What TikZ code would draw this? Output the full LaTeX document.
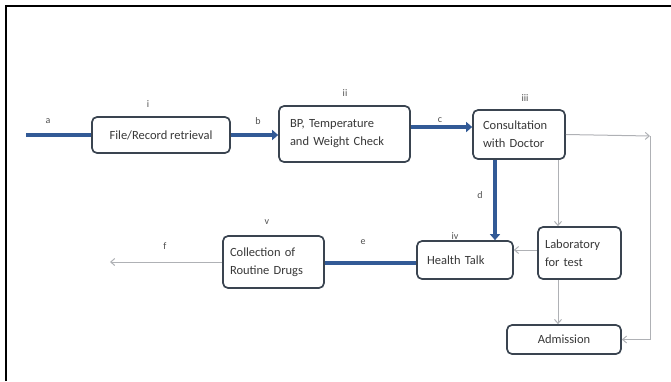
\documentclass[tikz,border=0pt]{standalone}
\usepackage{fontspec}
\setmainfont{Carlito}
\usetikzlibrary{arrows.meta,calc}
\definecolor{flowblue}{RGB}{50,90,150}
\definecolor{boxline}{RGB}{58,68,80}
\definecolor{thingray}{RGB}{175,177,181}
\definecolor{labelgray}{RGB}{80,80,80}
\tikzset{
  stagebox/.style={draw=boxline, line width=1.7pt, rounded corners=5pt, fill=white,
    font=\fontsize{12.5}{18}\selectfont, text=black!78, inner ysep=3pt, inner xsep=#1},
  stagebox/.default=4pt,
  mainflow/.style={draw=flowblue, line width=4.5pt,
    -{Triangle[length=6pt,width=10pt]}},
  mainline/.style={draw=flowblue, line width=4.5pt},
  sideflow/.style={draw=thingray, line width=1pt, -{Straight Barb[length=4pt,width=7pt]}},
  sideline/.style={draw=thingray, line width=1pt},
  steplabel/.style={font=\fontsize{10}{11}\selectfont, text=labelgray},
}
\begin{document}
\begin{tikzpicture}[x=1pt,y=-1pt]
\useasboundingbox (0,0) rectangle (671,381);
% frame edges
\draw[line width=2pt] (5.5,381) -- (5.5,5.5) -- (671,5.5);

% stages
\node[stagebox, minimum width=138pt, minimum height=36pt] (rec) at (161,135) {File/Record retrieval};
\node[stagebox=11pt, text width=109pt, minimum height=56pt, align=left] (vit) at (344.5,134) {BP, Temperature\\and Weight Check};
\node[stagebox=10pt, text width=72pt, minimum height=49pt, align=left] (doc) at (519,134.5) {Consultation\\with Doctor};
\node[stagebox=7pt, text width=69pt, minimum height=52pt, align=left] (lab) at (579.5,253) {Laboratory\\for test};
\node[stagebox=10pt, text width=76pt, minimum height=38pt, align=left] (talk) at (465,260) {Health Talk};
\node[stagebox, minimum width=114pt, minimum height=29pt] (adm) at (564,339.5) {Admission};
\node[stagebox=7pt, text width=87pt, minimum height=52pt, align=left] (drug) at (273.5,262) {Collection of\\Routine Drugs};

% free ends and corners
\coordinate (start) at (26,135);
\coordinate (exit) at (110,262);
\coordinate (rtop) at (650,136);
\coordinate (rbot) at (650,339.5);

% main flow
\draw[mainline] (start) -- (rec.west);
\draw[mainflow] (rec.east) -- (rec.east -| vit.west);
\draw[mainflow] ([yshift=7pt]vit.east) -- ([yshift=7pt]vit.east -| doc.west);
\draw[mainflow] ([xshift=-24pt]doc.south) -- ([xshift=-24pt]doc.south |- talk.north);
\draw[mainline] ([yshift=-3pt]talk.west) -- ([yshift=-3pt]talk.west -| drug.east);
\draw[sideflow] (drug.west) -- (exit);

% side routes
\draw[sideflow] (doc.east) -- (rtop);
\draw[sideline] (rtop) -- (rbot);
\draw[sideflow] (rbot) -- (adm.east);
\draw[sideflow] ([xshift=-21.5pt]lab.north |- doc.south) -- ([xshift=-21.5pt]lab.north);
\draw[sideflow] ([yshift=3pt]lab.west) -- ([yshift=3pt]lab.west -| talk.east);
\draw[sideflow] ([xshift=-21.5pt]lab.south) -- ([xshift=-21.5pt]lab.south |- adm.north);

% step labels
\node[steplabel] (la) at (48,121) {a};
\node[steplabel] (li) at (148,104) {i};
\node[steplabel] (lb) at (258,121) {b};
\node[steplabel] (lii) at (345,93) {ii};
\node[steplabel] (lc) at (440,120) {c};
\node[steplabel] (liii) at (525,98) {iii};
\node[steplabel] (ld) at (480,195) {d};
\node[steplabel] (liv) at (455,236) {iv};
\node[steplabel] (le) at (363,242) {e};
\node[steplabel] (lv) at (267,222) {v};
\node[steplabel] (lf) at (165,246) {f};
\end{tikzpicture}
\end{document}
